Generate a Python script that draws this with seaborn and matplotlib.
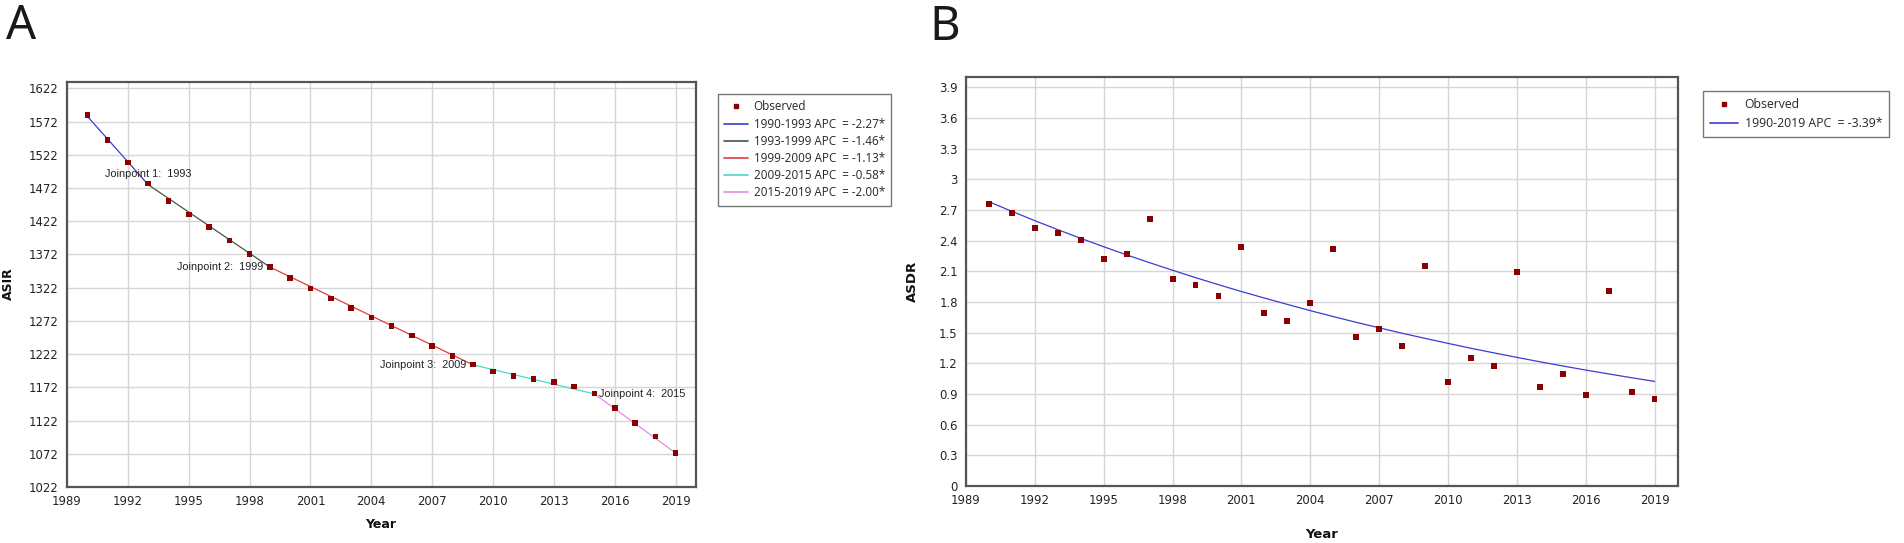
import pandas as pd
import matplotlib
matplotlib.use("Agg")
import matplotlib.pyplot as plt
from matplotlib.lines import Line2D
import seaborn as sns

# ---- data ----
years = list(range(1990, 2020))

asir_observed = [1582, 1544.5, 1510.5, 1478.5, 1452.5, 1432, 1413.5, 1393, 1373, 1353,
                 1336.5, 1321, 1306, 1291.5, 1277, 1264, 1250, 1234.5, 1219.5, 1206.5,
                 1195.5, 1189, 1184.5, 1180, 1173, 1162.5, 1140.5, 1118, 1098, 1073]

# joinpoint model for ASIR: fitted value at each joinpoint year
jp_years = [1990, 1993, 1999, 2009, 2015, 2019]
jp_fitted = [1580, 1477, 1353, 1206, 1162, 1073]
segment_labels = ["1990-1993 APC  = -2.27*", "1993-1999 APC  = -1.46*",
                  "1999-2009 APC  = -1.13*", "2009-2015 APC  = -0.58*",
                  "2015-2019 APC  = -2.00*"]
segment_colors = ["#3c3cd0", "#3f5a3f", "#e23c3c", "#4cd8c8", "#e08ee0"]

asdr_observed = [2.755, 2.667, 2.526, 2.477, 2.405, 2.216, 2.265, 2.614, 2.024, 1.965,
                 1.854, 2.334, 1.694, 1.615, 1.786, 2.314, 1.456, 1.534, 1.368, 2.154,
                 1.015, 1.253, 1.175, 2.095, 0.966, 1.096, 0.888, 1.906, 0.917, 0.855]
asdr_fitted = [2.780, 2.686, 2.595, 2.507, 2.422, 2.340, 2.260, 2.184, 2.110, 2.038,
               1.969, 1.902, 1.838, 1.776, 1.715, 1.657, 1.601, 1.547, 1.494, 1.444,
               1.395, 1.347, 1.302, 1.258, 1.215, 1.174, 1.134, 1.096, 1.059, 1.023]
asdr_label = "1990-2019 APC  = -3.39*"

x_ticks = list(range(1989, 2020, 3))
asir_ticks = list(range(1022, 1623, 50))
asdr_ticks = [i * 0.3 for i in range(14)]

# ---- style ----
sns.set_theme(style="whitegrid")
plt.rcParams["font.family"] = ["DejaVu Sans"]
plt.rcParams["axes.edgecolor"] = "#555555"
plt.rcParams["grid.color"] = "#d6d6d6"

W, H = 1904, 543
fig = plt.figure(figsize=(W / 100, H / 100), dpi=100)

def fig_box(left, top, right, bottom):
    return [left / W, 1 - bottom / H, (right - left) / W, (bottom - top) / H]

ax_a = fig.add_axes(fig_box(67, 82, 696, 487))
ax_b = fig.add_axes(fig_box(966, 77, 1677.5, 486))

marker_color = "#8b0000"

def style_axes(ax):
    for s in ax.spines.values():
        s.set_color("#555555")
        s.set_linewidth(1.6)
    ax.grid(True, color="#d6d6d6", linewidth=1.0)
    ax.tick_params(length=0, labelsize=8.4, colors="#222222", pad=6)
    ax.set_xlabel("")
    ax.set_ylabel("")
    ax.set_xticks(x_ticks)
    ax.set_xlim(1989, 2020)

# ---- panel A ----
df_a = pd.DataFrame({"Year": years, "ASIR": asir_observed})
seg_rows = []
for i, lab in enumerate(segment_labels):
    seg_rows.append({"Year": jp_years[i], "Fit": jp_fitted[i], "Segment": lab})
    seg_rows.append({"Year": jp_years[i + 1], "Fit": jp_fitted[i + 1], "Segment": lab})
seg_df = pd.DataFrame(seg_rows)

sns.lineplot(data=seg_df, x="Year", y="Fit", hue="Segment",
             palette=dict(zip(segment_labels, segment_colors)),
             linewidth=0.9, legend=False, ax=ax_a, zorder=2)
sns.scatterplot(data=df_a, x="Year", y="ASIR", marker="s", s=16,
                color=marker_color, edgecolor="none", legend=False, ax=ax_a, zorder=3)
style_axes(ax_a)
ax_a.set_yticks(asir_ticks)
ax_a.set_ylim(1022, 1631.5)

jp_text = [("Joinpoint 1:  1993", (0, 8), "center", "center"),
           ("Joinpoint 2:  1999", (-5, 0), "right", "center"),
           ("Joinpoint 3:  2009", (-5, 0), "right", "center"),
           ("Joinpoint 4:  2015", (3.5, 0), "left", "center")]
for k, (txt, off, ha, va) in enumerate(jp_text):
    ax_a.annotate(txt, (jp_years[k + 1], jp_fitted[k + 1]), xytext=off,
                  textcoords="offset points", ha=ha, va=va, fontsize=7.8,
                  family="Liberation Sans", color="#222222")

handles_a = [Line2D([], [], marker="s", linestyle="none", color=marker_color, markersize=3)]
handles_a += [Line2D([], [], color=c, linewidth=1.2) for c in segment_colors]
leg_a = ax_a.legend(handles_a, ["Observed"] + segment_labels, loc="upper left",
                    bbox_to_anchor=(718 / W, 1 - 94 / H), bbox_transform=fig.transFigure,
                    borderaxespad=0, frameon=True, fancybox=False, framealpha=1,
                    edgecolor="#777777", prop={"family": "Open Sans", "size": 8.4},
                    handlelength=2.0, handletextpad=0.5, labelspacing=0.36, borderpad=0.55)
leg_a.get_frame().set_linewidth(1.0)

# ---- panel B ----
df_b = pd.DataFrame({"Year": years, "ASDR": asdr_observed, "Fit": asdr_fitted})
sns.lineplot(data=df_b, x="Year", y="Fit", color="#3c3cd0", linewidth=0.9,
             ax=ax_b, zorder=2)
sns.scatterplot(data=df_b, x="Year", y="ASDR", marker="s", s=18,
                color=marker_color, edgecolor="none", legend=False, ax=ax_b, zorder=3)
style_axes(ax_b)
ax_b.set_yticks(asdr_ticks)
ax_b.set_yticklabels([f"{v:g}" for v in [round(t, 1) for t in asdr_ticks]])
ax_b.set_ylim(0, 4.0)

handles_b = [Line2D([], [], marker="s", linestyle="none", color=marker_color, markersize=3),
             Line2D([], [], color="#3c3cd0", linewidth=1.2)]
leg_b = ax_b.legend(handles_b, ["Observed", asdr_label], loc="upper left",
                    bbox_to_anchor=(1703 / W, 1 - 91 / H), bbox_transform=fig.transFigure,
                    borderaxespad=0, frameon=True, fancybox=False, framealpha=1,
                    edgecolor="#777777", prop={"family": "Open Sans", "size": 8.8},
                    handlelength=2.3, handletextpad=0.5, labelspacing=0.45, borderpad=0.6)
leg_b.get_frame().set_linewidth(1.0)

# ---- axis titles and panel letters ----
fig.text(8 / W, 1 - 284 / H, "ASIR", rotation=90, ha="center", va="center",
         fontsize=9, weight="bold", color="#111111")
fig.text(381 / W, 1 - 525 / H, "Year", ha="center", va="center",
         fontsize=9, weight="bold", color="#111111")
fig.text(912 / W, 1 - 281 / H, "ASDR", rotation=90, ha="center", va="center",
         fontsize=9.5, weight="bold", color="#111111")
fig.text(1322 / W, 1 - 534 / H, "Year", ha="center", va="center",
         fontsize=9.5, weight="bold", color="#111111")
fig.text(21.5 / W, 1 - 39 / H, "A", ha="center", va="baseline",
         fontsize=34, family="Noto Sans", color="#1a1a1a")
fig.text(944.5 / W, 1 - 40 / H, "B", ha="center", va="baseline",
         fontsize=34, family="Noto Sans", color="#1a1a1a")

fig.savefig("out.png", dpi=100)
plt.close(fig)
